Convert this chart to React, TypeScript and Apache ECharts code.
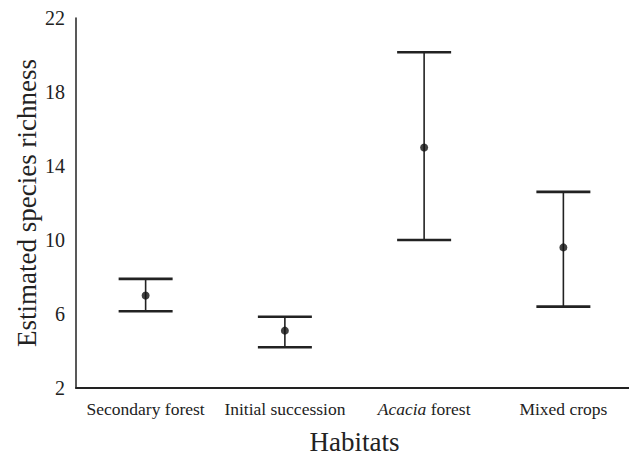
import React, { useEffect, useRef } from "react";
import * as echarts from "echarts";

const categories = ["Secondary forest", "Initial succession", "Acacia forest", "Mixed crops"];
const means = [7.0, 5.1, 15.0, 9.6];
const lowers = [6.15, 4.2, 10.0, 6.4];
const uppers = [7.9, 5.85, 20.15, 12.6];
const yTicks = [2, 6, 10, 14, 18, 22];

const FONT = "'Liberation Serif', 'Times New Roman', serif";

export default function App() {
  const ref = useRef<HTMLDivElement>(null);
  useEffect(() => {
    if (!ref.current) return;
    const chart = echarts.init(ref.current, null, { renderer: "svg" });
    const errData = categories.map((_, i) => [i, lowers[i], uppers[i]]);
    const ptData = categories.map((_, i) => [i, means[i]]);
    chart.setOption({
      animation: false,
      backgroundColor: "#ffffff",
      grid: { left: 76, top: 18, bottom: 67, right: -4, containLabel: false, outerBoundsMode: "none" },
      xAxis: {
        type: "category",
        data: categories,
        boundaryGap: true,
        axisLine: { lineStyle: { color: "#222", width: 2 } },
        axisTick: { show: false },
        axisLabel: {
          color: "#222",
          fontFamily: FONT,
          fontSize: 17.5,
          margin: 12,
          interval: 0,
          formatter: (v: string) => (v === "Acacia forest" ? "{it|Acacia} forest" : v),
          rich: { it: { fontStyle: "italic", fontFamily: FONT, fontSize: 17.5, color: "#222" } },
        },
        name: "Habitats",
        nameLocation: "middle",
        nameGap: 40,
        nameMoveOverlap: false,
        nameTextStyle: { color: "#222", fontFamily: FONT, fontSize: 27 },
        splitLine: { show: false },
      },
      yAxis: {
        type: "value",
        min: yTicks[0],
        max: yTicks[yTicks.length - 1],
        interval: 4,
        axisLine: { show: true, lineStyle: { color: "#222", width: 1.5 } },
        axisTick: { show: false },
        splitLine: { show: false },
        axisLabel: { color: "#222", fontFamily: FONT, fontSize: 20, margin: 11 },
        name: "Estimated species richness",
        nameLocation: "middle",
        nameGap: 36,
        nameMoveOverlap: false,
        nameTextStyle: { color: "#222", fontFamily: FONT, fontSize: 27 },
      },
      series: [
        {
          type: "custom",
          data: errData,
          renderItem: (params: any, api: any) => {
            const x = api.value(0);
            const lo = api.coord([x, api.value(1)]);
            const hi = api.coord([x, api.value(2)]);
            const hw = 27;
            return {
              type: "group",
              children: [
                { type: "line", shape: { x1: lo[0], y1: lo[1], x2: hi[0], y2: hi[1] }, style: { stroke: "#222", lineWidth: 1.6 } },
                { type: "line", shape: { x1: lo[0] - hw, y1: lo[1], x2: lo[0] + hw, y2: lo[1] }, style: { stroke: "#222", lineWidth: 2.6 } },
                { type: "line", shape: { x1: hi[0] - hw, y1: hi[1], x2: hi[0] + hw, y2: hi[1] }, style: { stroke: "#222", lineWidth: 2.6 } },
              ],
            };
          },
          z: 2,
        },
        {
          type: "scatter",
          data: ptData,
          symbol: "circle",
          symbolSize: 8,
          itemStyle: { color: "#111" },
          z: 3,
        },
      ],
    });
    return () => chart.dispose();
  }, []);
  return (
    <div
      ref={ref}
      style={{ position: "absolute", left: 0, top: 0, width: 629, height: 455, background: "#fff" }}
    />
  );
}
